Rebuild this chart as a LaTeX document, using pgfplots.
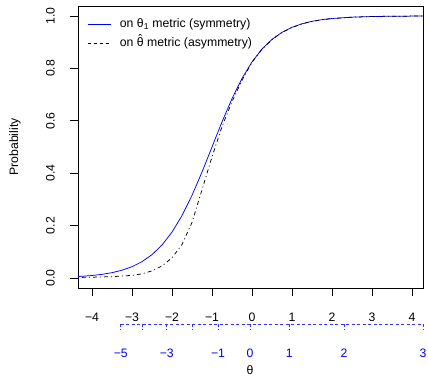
\documentclass[border=0pt]{standalone}
\usepackage{pgfplots}
\pgfplotsset{compat=1.18}
\usepackage{fontspec}
\setmainfont{Liberation Sans}
\newcommand{\thetahat}{\ooalign{θ\cr\hidewidth\smash{\raisebox{0.24em}{ˆ}}\hidewidth\cr}}
\begin{document}
\fontsize{12}{14}\selectfont
\begin{tikzpicture}
\useasboundingbox (-78bp,-89bp) rectangle (350bp,288bp);
\begin{axis}[
  at={(0,0)}, anchor=south west,
  scale only axis, width=345bp, height=282bp,
  xmin=-4.35, xmax=4.275, ymin=-0.0382, ymax=1.0382,
  clip=false,
  axis line style={line width=0.75bp},
  xtick pos=bottom, ytick pos=left,
  tick align=outside, major tick length=7.5bp,
  tick style={line width=0.75bp, black},
  xtick={-4,-3,-2,-1,0,1,2,3,4},
  xticklabels={−4,−3,−2,−1,0,1,2,3,4},
  ytick={0,0.2,0.4,0.6,0.8,1.0},
  yticklabels={0.0,0.2,0.4,0.6,0.8,1.0},
  xticklabel style={font=\fontsize{12.3}{14}\selectfont, anchor=center, yshift=-21.5bp},
  yticklabel style={font=\fontsize{12.3}{14}\selectfont, xshift=-20bp, rotate=90, anchor=center},
  ylabel={Probability},
  ylabel style={at={(axis description cs:-0.183,0.5)}, anchor=center, font=\fontsize{12.3}{14}\selectfont},
  xlabel={θ},
  xlabel style={at={(axis description cs:0.4986,-0.291)}, anchor=center, font=\fontsize{12.3}{14}\selectfont},
  legend style={draw=none, fill=none, at={(0.026,0.962)}, anchor=north west,
    font=\fontsize{12.3}{14}\selectfont, row sep=4bp, column sep=7bp, inner sep=0pt,
    nodes={inner sep=2bp}},
  legend cell align=left,
  legend image code/.code={\draw (0bp,0bp) -- (23bp,0bp);},
]
\addlegendimage{blue, line width=0.75bp}
\addlegendentry{on θ\textsubscript{1} metric (symmetry)}
\addlegendimage{black, line width=0.75bp, dash pattern=on 3bp off 3bp}
\addlegendentry{on \thetahat{} metric (asymmetry)}

\addplot[blue, line width=0.75bp, forget plot] coordinates {
(-4.35,0.0055) (-4.0,0.0095) (-3.75,0.0139) (-3.5,0.0203) (-3.25,0.0297)
(-3.0,0.0431) (-2.75,0.0622) (-2.5,0.0891) (-2.25,0.1259) (-2.0,0.1751)
(-1.75,0.2382) (-1.5,0.3154) (-1.25,0.4043) (-1.0,0.5) (-0.75,0.5957)
(-0.5,0.6846) (-0.25,0.7618) (0.0,0.8249) (0.25,0.8741) (0.5,0.9109)
(0.75,0.9378) (1.0,0.9569) (1.25,0.9703) (1.5,0.9797) (1.75,0.9861)
(2.0,0.9905) (2.5,0.9956) (3.0,0.9980) (3.5,0.9991) (4.0,0.9996) (4.275,0.9997)
};
\addplot[black, line width=0.75bp, dash pattern=on 1bp off 3bp on 4bp off 3bp, forget plot] coordinates {
(-4.35,0.002) (-4.0,0.003) (-3.5,0.005) (-3.0,0.010) (-2.75,0.016)
(-2.5,0.027) (-2.25,0.046) (-2.0,0.077) (-1.75,0.128) (-1.5,0.212)
(-1.25,0.337) (-1.0,0.462) (-0.75,0.578) (-0.5,0.673) (-0.25,0.755)
(0.0,0.823) (0.25,0.873) (0.5,0.910) (0.75,0.937) (1.0,0.956)
(1.25,0.970) (1.5,0.979) (1.75,0.986) (2.0,0.990) (2.5,0.9955)
(3.0,0.998) (3.5,0.9991) (4.0,0.9996) (4.275,0.9997)
};

% secondary (theta-hat) scale
\draw[blue!80, line width=0.75bp, dash pattern=on 3bp off 2.5bp] (axis cs:-3.28,-0.1756) -- (axis cs:4.275,-0.1756);
\draw[blue!80, line width=0.75bp, dash pattern=on 3bp off 2.5bp] (axis cs:-3.28,-0.1756) -- (axis cs:-3.28,-0.198);
\draw[blue!80, line width=0.75bp, dash pattern=on 3bp off 2.5bp] (axis cs:-2.73,-0.1756) -- (axis cs:-2.73,-0.198);
\draw[blue!80, line width=0.75bp, dash pattern=on 3bp off 2.5bp] (axis cs:-2.13,-0.1756) -- (axis cs:-2.13,-0.198);
\draw[blue!80, line width=0.75bp, dash pattern=on 3bp off 2.5bp] (axis cs:-1.50,-0.1756) -- (axis cs:-1.50,-0.198);
\draw[blue!80, line width=0.75bp, dash pattern=on 3bp off 2.5bp] (axis cs:-0.85,-0.1756) -- (axis cs:-0.85,-0.198);
\draw[blue!80, line width=0.75bp, dash pattern=on 3bp off 2.5bp] (axis cs:-0.05,-0.1756) -- (axis cs:-0.05,-0.198);
\draw[blue!80, line width=0.75bp, dash pattern=on 3bp off 2.5bp] (axis cs:0.93,-0.1756) -- (axis cs:0.93,-0.198);
\draw[blue!80, line width=0.75bp, dash pattern=on 3bp off 2.5bp] (axis cs:2.30,-0.1756) -- (axis cs:2.30,-0.198);
\draw[blue!80, line width=0.75bp, dash pattern=on 3bp off 2.5bp] (axis cs:4.275,-0.1756) -- (axis cs:4.275,-0.198);
\node[blue, anchor=center, font=\fontsize{12.3}{14}\selectfont] at (axis cs:-3.28,-0.286) {−5};
\node[blue, anchor=center, font=\fontsize{12.3}{14}\selectfont] at (axis cs:-2.13,-0.286) {−3};
\node[blue, anchor=center, font=\fontsize{12.3}{14}\selectfont] at (axis cs:-0.85,-0.286) {−1};
\node[blue, anchor=center, font=\fontsize{12.3}{14}\selectfont] at (axis cs:-0.05,-0.286) {0};
\node[blue, anchor=center, font=\fontsize{12.3}{14}\selectfont] at (axis cs:0.93,-0.286) {1};
\node[blue, anchor=center, font=\fontsize{12.3}{14}\selectfont] at (axis cs:2.30,-0.286) {2};
\node[blue, anchor=center, font=\fontsize{12.3}{14}\selectfont] at (axis cs:4.275,-0.286) {3};
\end{axis}
\end{tikzpicture}
\end{document}
